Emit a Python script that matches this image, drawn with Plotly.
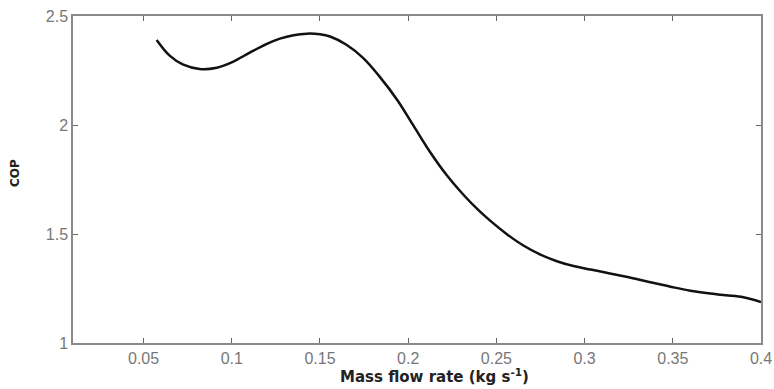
import plotly.graph_objects as go

# Mass flow rate (kg/s) and corresponding COP
mass_flow = [0.0574, 0.0648, 0.0722, 0.0818, 0.0915, 0.1006, 0.1102, 0.1199,
             0.1273, 0.1350, 0.1426, 0.1500, 0.1557, 0.1650, 0.1744, 0.1838,
             0.1938, 0.2030, 0.2125, 0.2220, 0.2313, 0.2400, 0.2466, 0.2563,
             0.2653, 0.2750, 0.2847, 0.2938, 0.3034, 0.3131, 0.3222, 0.3300,
             0.3400, 0.3500, 0.3600, 0.3700, 0.3800, 0.3900, 0.4000]
cop = [2.390, 2.318, 2.278, 2.257, 2.263, 2.290, 2.332, 2.372,
       2.396, 2.412, 2.419, 2.416, 2.406, 2.368, 2.308, 2.222,
       2.115, 1.997, 1.875, 1.768, 1.680, 1.608, 1.560, 1.497,
       1.447, 1.405, 1.374, 1.353, 1.337, 1.321, 1.306, 1.292,
       1.274, 1.256, 1.240, 1.228, 1.219, 1.210, 1.188]

x_ticks = [0.05, 0.1, 0.15, 0.2, 0.25, 0.3, 0.35, 0.4]
x_tick_text = ["0.05", "0.1", "0.15", "0.2", "0.25", "0.3", "0.35", "0.4"]
y_ticks = [1, 1.5, 2, 2.5]
y_tick_text = ["1", "1.5", "2", "2.5"]

x_title = "<b>Mass flow rate (kg s<sup>-1</sup>)</b>"
y_title = "<b>COP</b>"

fig = go.Figure()
fig.add_trace(go.Scatter(
    x=mass_flow, y=cop, mode="lines",
    line=dict(color="#111111", width=2.5, shape="spline", smoothing=1.0),
    showlegend=False,
))

axis_common = dict(
    showgrid=False, zeroline=False, automargin=False,
    showline=True, linecolor="#8a8a8a", linewidth=1.5,
    ticks="inside", ticklen=5, tickcolor="#666666", tickwidth=1,
    mirror="ticks",
    tickfont=dict(family="Liberation Sans, Arial, sans-serif", size=16, color="#777777"),
)

title_font = dict(family="DejaVu Sans, Verdana, sans-serif", color="#222222")

fig.update_layout(
    width=774, height=389,
    margin=dict(l=73, r=13, t=16, b=46),
    paper_bgcolor="white", plot_bgcolor="white",
    xaxis=dict(range=[0.01, 0.4], tickvals=x_ticks, ticktext=x_tick_text, **axis_common),
    yaxis=dict(range=[1, 2.5], tickvals=y_ticks, ticktext=y_tick_text, **axis_common),
    annotations=[
        # axis titles placed as annotations so they can sit off-centre
        dict(text=x_title, xref="paper", yref="paper", x=0.526, y=0,
             xanchor="center", yanchor="middle", yshift=-33, showarrow=False,
             font=dict(size=15, **title_font)),
        dict(text=y_title, xref="paper", yref="paper", x=0, y=0.52,
             xanchor="center", yanchor="middle", xshift=-58, textangle=-90,
             showarrow=False, font=dict(size=12, **title_font)),
    ],
)

fig.write_html("out.html")
